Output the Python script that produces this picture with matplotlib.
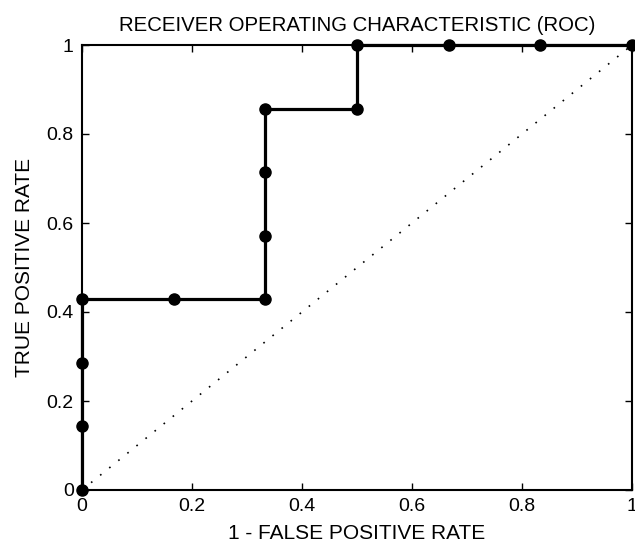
import numpy as np
import matplotlib
matplotlib.use('Agg')
import matplotlib.pyplot as plt

plt.rcParams['font.family'] = ['Liberation Sans', 'DejaVu Sans']

# ROC points (1 - false positive rate, true positive rate)
fpr = [0, 0, 0, 0, 1/6, 2/6, 2/6, 2/6, 2/6, 3/6, 3/6, 4/6, 5/6, 1]
tpr = [0, 1/7, 2/7, 3/7, 3/7, 3/7, 4/7, 5/7, 6/7, 6/7, 1, 1, 1, 1]
ticks = [0, 0.2, 0.4, 0.6, 0.8, 1]
tick_labels = ['0', '0.2', '0.4', '0.6', '0.8', '1']

fig = plt.figure(figsize=(6.35, 5.48), dpi=100)
ax = fig.add_axes([82/635, 58/548, 550/635, 445/548])

ax.plot([0, 1], [0, 1], color='black', linestyle=(0, (1, 6)), lw=1.2)
ax.plot(fpr, tpr, color='black', lw=2.3, marker='o', ms=8, clip_on=False, zorder=5)

ax.set_xlim(0, 1)
ax.set_ylim(0, 1)
ax.set_xticks(ticks)
ax.set_xticklabels(tick_labels)
ax.set_yticks(ticks)
ax.set_yticklabels(tick_labels)
ax.tick_params(direction='in', top=True, right=True, length=5, width=1,
               labelsize=14, pad=6)
for s in ax.spines.values():
    s.set_linewidth(1.5)

ax.set_title('RECEIVER OPERATING CHARACTERISTIC (ROC)', fontsize=14.7, pad=10)
ax.set_xlabel('1 - FALSE POSITIVE RATE', fontsize=15, labelpad=6)
ax.set_ylabel('TRUE POSITIVE RATE', fontsize=15, labelpad=9)

fig.savefig('out.png', dpi=100)
